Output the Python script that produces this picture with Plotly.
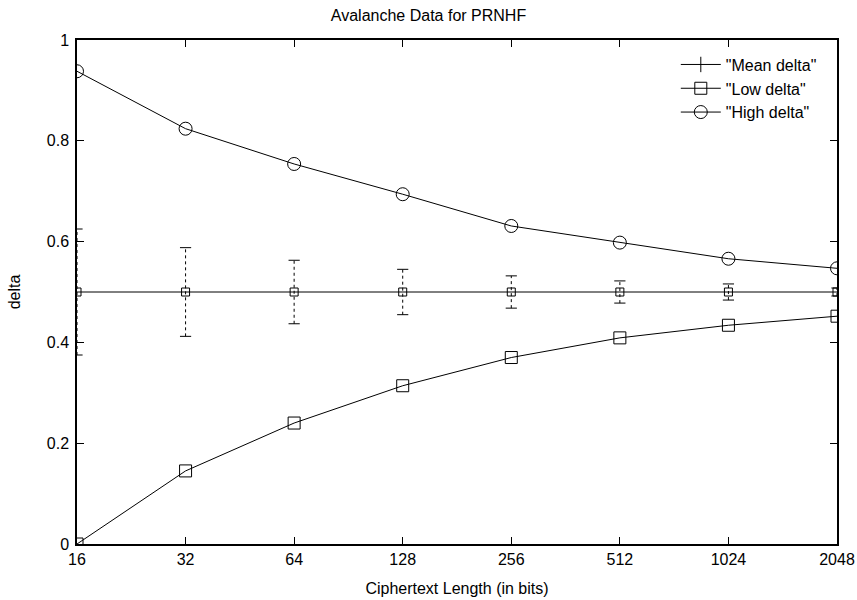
import plotly.graph_objects as go

lengths = [16, 32, 64, 128, 256, 512, 1024, 2048]
tick_labels = ["16", "32", "64", "128", "256", "512", "1024", "2048"]
mean_delta = [0.5, 0.5, 0.5, 0.5, 0.5, 0.5, 0.5, 0.5]
mean_err = [0.125, 0.088, 0.063, 0.045, 0.032, 0.022, 0.016, 0.008]
low_delta = [0.0, 0.145, 0.240, 0.314, 0.370, 0.409, 0.434, 0.452]
high_delta = [0.938, 0.824, 0.754, 0.694, 0.631, 0.598, 0.566, 0.547]

FONT = "Liberation Sans, Arial, Helvetica, sans-serif"
FS = 16

# error bar stems (dotted)
ex, ey = [], []
for x, m, e in zip(lengths, mean_delta, mean_err):
    ex += [x, x, None]
    ey += [m - e, m + e, None]
cap_x = lengths + lengths
cap_y = [m + e for m, e in zip(mean_delta, mean_err)] + [m - e for m, e in zip(mean_delta, mean_err)]

fig = go.Figure()
fig.add_trace(go.Scatter(x=ex, y=ey, mode="lines", showlegend=False,
                         line=dict(color="black", width=1, dash="dot"), hoverinfo="skip"))
fig.add_trace(go.Scatter(x=cap_x, y=cap_y, mode="markers", showlegend=False,
                         marker=dict(symbol="line-ew", size=8, color="black",
                                     line=dict(color="black", width=1)), hoverinfo="skip"))
fig.add_trace(go.Scatter(x=lengths, y=mean_delta, mode="lines+markers", showlegend=False,
                         line=dict(color="black", width=1),
                         marker=dict(symbol="square-open", size=8, color="black",
                                     line=dict(color="black", width=1))))
# legend entries
fig.add_trace(go.Scatter(x=[None], y=[None], mode="lines+markers", name='"Mean delta"',
                         line=dict(color="black", width=1),
                         marker=dict(symbol="line-ns", size=11, color="black",
                                     line=dict(color="black", width=1))))
fig.add_trace(go.Scatter(x=lengths, y=low_delta, mode="lines+markers", name='"Low delta"',
                         line=dict(color="black", width=1),
                         marker=dict(symbol="square-open", size=12, color="black",
                                     line=dict(color="black", width=1))))
fig.add_trace(go.Scatter(x=lengths, y=high_delta, mode="lines+markers", name='"High delta"',
                         line=dict(color="black", width=1),
                         marker=dict(symbol="circle-open", size=13, color="black",
                                     line=dict(color="black", width=1))))

fig.update_layout(
    width=857, height=600,
    margin=dict(l=77, r=20, t=40, b=56, autoexpand=False),
    paper_bgcolor="white", plot_bgcolor="white",
    font=dict(family=FONT, size=FS, color="black"),
    title=dict(text="Avalanche Data for PRNHF", x=0.5, xanchor="center",
               y=1 - 10 / 600, yanchor="top", font=dict(size=FS), automargin=False),
    showlegend=True,
    legend=dict(x=0.98, y=0.985, xanchor="right", yanchor="top",
                bgcolor="rgba(0,0,0,0)", font=dict(size=FS),
                tracegroupgap=0, itemwidth=40),
)
fig.update_xaxes(type="log", range=[1.2041199826559248, 3.311329952303793],
                 tickvals=lengths, ticktext=tick_labels, tickfont=dict(size=FS),
                 ticks="inside", ticklen=7, tickcolor="black", tickwidth=1,
                 showline=True, linecolor="black", linewidth=1.5, mirror="allticks",
                 showgrid=False, zeroline=False, automargin=False,
                 title=dict(text="Ciphertext Length (in bits)", standoff=16, font=dict(size=FS)))
fig.update_yaxes(range=[0, 1], dtick=0.2, tick0=0, tickfont=dict(size=FS),
                 ticks="inside", ticklen=7, tickcolor="black", tickwidth=1,
                 showline=True, linecolor="black", linewidth=1.5, mirror="allticks",
                 showgrid=False, zeroline=False, ticklabelstandoff=3, automargin=False,
                 title=dict(text="delta", standoff=22, font=dict(size=FS)))

fig.write_html(
    "out.html",
    config={"displayModeBar": False},
    post_script="document.body.style.margin='0';document.body.style.overflow='hidden';",
)
